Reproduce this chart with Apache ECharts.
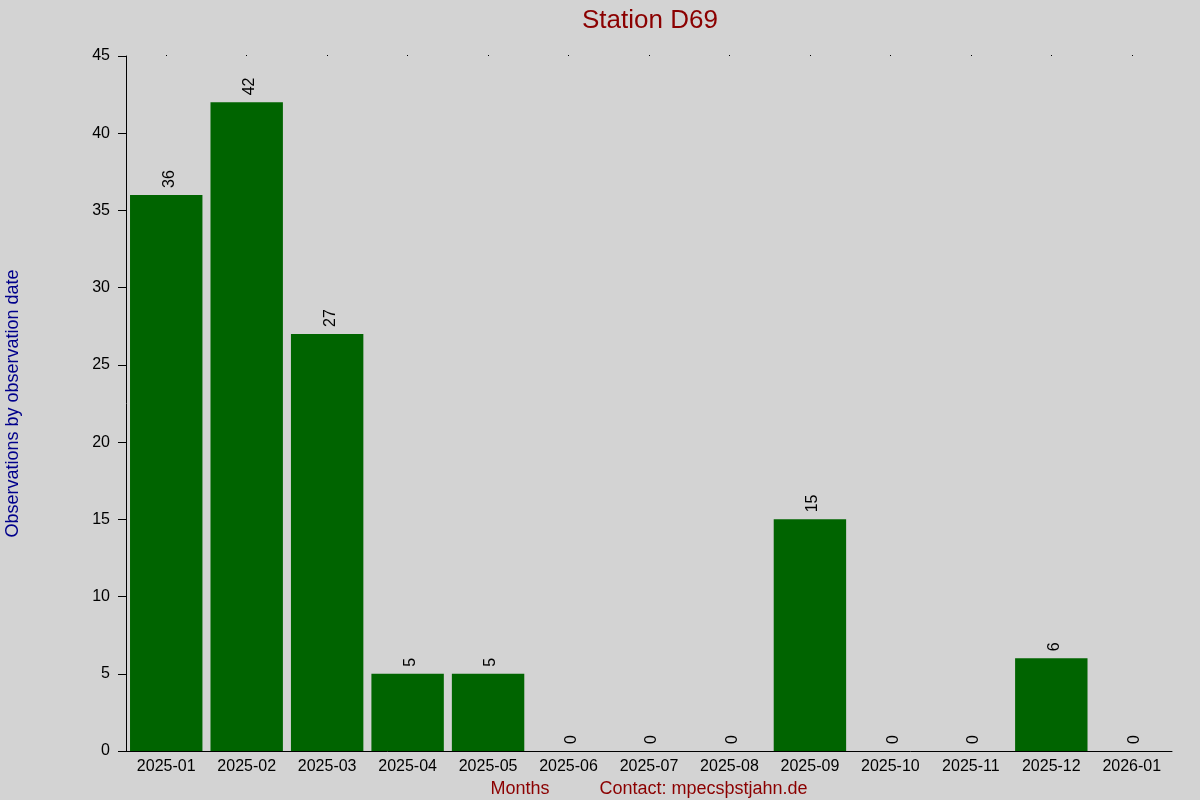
<!DOCTYPE html>
<html>
<head>
<meta charset="utf-8">
<title>Station D69</title>
<script src="https://cdn.jsdelivr.net/npm/echarts@6/dist/echarts.min.js"></script>
<style>
  html, body { margin: 0; padding: 0; background: #d3d3d3; }
  #chart { width: 1200px; height: 800px; }
</style>
</head>
<body>
<div id="chart"></div>
<script>
var months = ['2025-01', '2025-02', '2025-03', '2025-04', '2025-05', '2025-06', '2025-07',
              '2025-08', '2025-09', '2025-10', '2025-11', '2025-12', '2026-01'];
var counts = [36, 42, 27, 5, 5, 0, 0, 0, 15, 0, 0, 6, 0];
var yTicks = [0, 5, 10, 15, 20, 25, 30, 35, 40, 45];

var font = 'Liberation Sans, Arial, sans-serif';
var chart = echarts.init(document.getElementById('chart'));
var option = {
  backgroundColor: '#d3d3d3',
  animation: false,
  title: {
    // centred over the plot area, not the page
    text: 'Station D69',
    left: 577,
    top: 3,
    textStyle: { color: '#8b0000', fontSize: 26, fontWeight: 'normal', fontFamily: font }
  },
  grid: { left: 126, right: 28, top: 56, bottom: 49, containLabel: false, outerBoundsMode: 'none' },
  xAxis: [{
    type: 'category',
    data: months,
    name: 'Months          Contact: mpecsþstjahn.de',
    nameLocation: 'middle',
    nameGap: 25,
    nameTextStyle: { color: '#8b0000', fontSize: 18, fontFamily: font },
    axisLine: { show: true, lineStyle: { color: '#000', width: 1 } },
    axisTick: { show: false },
    axisLabel: { color: '#000', fontSize: 16, fontFamily: font, margin: 8, interval: 0 },
    splitLine: { show: false }
  }, {
    // the little dots along the top edge
    type: 'category',
    data: months,
    position: 'top',
    axisLine: { show: false },
    axisTick: { show: true, alignWithLabel: true, length: 1, lineStyle: { color: '#000' } },
    axisLabel: { show: false }
  }],
  yAxis: {
    type: 'value',
    min: yTicks[0],
    max: yTicks[yTicks.length - 1],
    interval: 5,
    name: 'Observations by observation date',
    nameLocation: 'middle',
    nameRotate: 90,
    nameGap: 104,
    nameTextStyle: { color: '#00008b', fontSize: 18, fontFamily: font },
    axisLine: { show: true, lineStyle: { color: '#000', width: 1 } },
    axisTick: { show: true, length: 8, lineStyle: { color: '#000' } },
    axisLabel: { color: '#000', fontSize: 16, fontFamily: font, margin: 16 },
    splitLine: { show: false }
  },
  series: [{
    type: 'bar',
    data: counts,
    barWidth: '90%',
    itemStyle: { color: '#006400' },
    label: {
      show: true,
      position: 'top',
      rotate: 90,
      align: 'left',
      verticalAlign: 'middle',
      distance: 7,
      offset: [0, 3],
      color: '#000',
      fontSize: 16,
      fontFamily: font
    }
  }]
};
chart.setOption(option);
</script>
</body>
</html>
